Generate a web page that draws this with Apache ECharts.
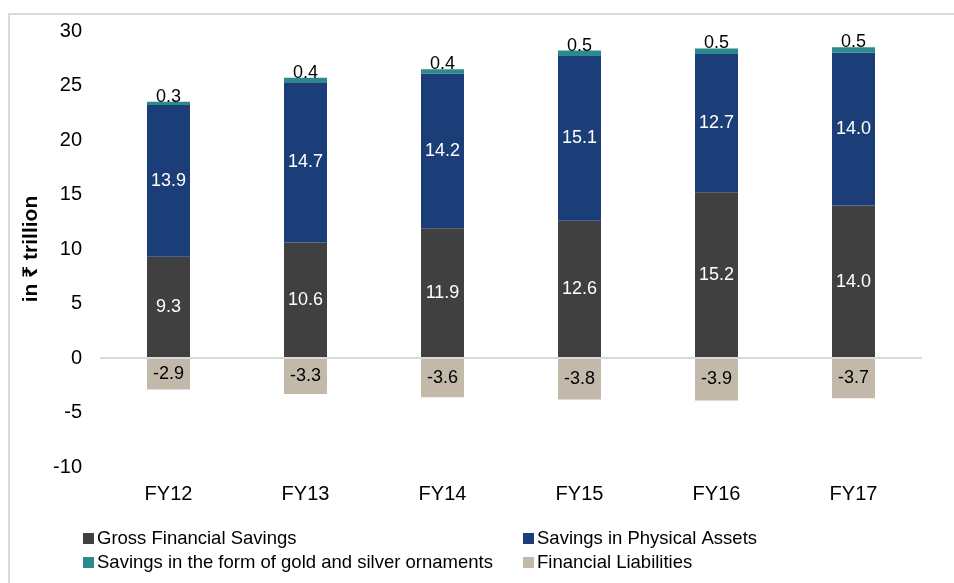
<!DOCTYPE html>
<html><head><meta charset="utf-8">
<script src="https://cdn.jsdelivr.net/npm/echarts@6/dist/echarts.min.js"></script>
<style>html,body{margin:0;padding:0;background:#fff}#c{width:954px;height:583px}</style>
</head><body><div id="c"></div>
<script>
const categories = ['FY12','FY13','FY14','FY15','FY16','FY17'];
const grossFinancial = [9.3, 10.6, 11.9, 12.6, 15.2, 14.0];
const physicalAssets = [13.9, 14.7, 14.2, 15.1, 12.7, 14.0];
const goldSilver = [0.3, 0.4, 0.4, 0.5, 0.5, 0.5];
const liabilities = [-2.9, -3.3, -3.6, -3.8, -3.9, -3.7];
const yTicks = {min: -10, max: 30, interval: 5};

const FONT = '"Liberation Sans", Arial, "Noto Sans", sans-serif';
const chart = echarts.init(document.getElementById('c'));
const lbl = (color, pos, extra) => Object.assign({show: true, position: pos, color: color, fontSize: 18, fontFamily: FONT, formatter: p => p.value.toFixed(1)}, extra || {});
const legendText = {fontSize: 18.5, color: '#000', fontFamily: FONT, padding: [0,0,0,-2]};
chart.setOption({
  animation: false,
  textStyle: {fontFamily: FONT},
  graphic: [{type: 'rect', shape: {x: 9, y: 14, width: 1100, height: 1000}, style: {fill: 'none', stroke: '#d9d9d9', lineWidth: 2}, z: -10}],
  grid: {left: 100, right: 32, top: 31, bottom: 116},
  legend: [
    {orient: 'vertical', left: 78, top: 524, itemGap: 5, itemWidth: 11, itemHeight: 11, icon: 'rect',
     textStyle: legendText,
     data: ['Gross Financial Savings', 'Savings in the form of gold and silver ornaments']},
    {orient: 'vertical', left: 518, top: 524, itemGap: 5, itemWidth: 11, itemHeight: 11, icon: 'rect',
     textStyle: legendText,
     data: ['Savings in Physical Assets', 'Financial Liabilities']}
  ],
  xAxis: {type: 'category', data: categories, axisLine: {show: false, onZero: false}, axisTick: {show: false},
    axisLabel: {fontSize: 20, color: '#000', margin: 17, fontFamily: FONT}},
  yAxis: {type: 'value', min: yTicks.min, max: yTicks.max, interval: yTicks.interval,
    splitLine: {show: false}, axisLine: {show: false}, axisTick: {show: false},
    axisLabel: {fontSize: 20, color: '#000', margin: 18, fontFamily: FONT},
    name: 'in ₹ trillion', nameLocation: 'middle', nameGap: 56, nameRotate: 90,
    nameTextStyle: {fontSize: 21, fontWeight: 'bold', color: '#000', fontFamily: FONT}},
  series: [
    {name: 'Gross Financial Savings', type: 'bar', stack: 'pos', barWidth: 43, data: grossFinancial,
     itemStyle: {color: '#404040'}, label: lbl('#fff', 'inside'),
     markLine: {silent: true, symbol: 'none', label: {show: false}, lineStyle: {color: '#d9d9d9', width: 2, type: 'solid'}, data: [{yAxis: 0}]}},
    {name: 'Savings in Physical Assets', type: 'bar', stack: 'pos', barWidth: 43, data: physicalAssets,
     itemStyle: {color: '#1c3e78'}, label: lbl('#fff', 'inside')},
    {name: 'Savings in the form of gold and silver ornaments', type: 'bar', stack: 'pos', barWidth: 43, data: goldSilver,
     itemStyle: {color: '#2b8a8b'}, label: lbl('#000', 'top', {distance: -4})},
    {name: 'Financial Liabilities', type: 'bar', stack: 'neg', barWidth: 43, barGap: '-100%', data: liabilities,
     itemStyle: {color: '#c2b9ab'}, label: lbl('#000', 'inside')}
  ]
});
</script></body></html>
